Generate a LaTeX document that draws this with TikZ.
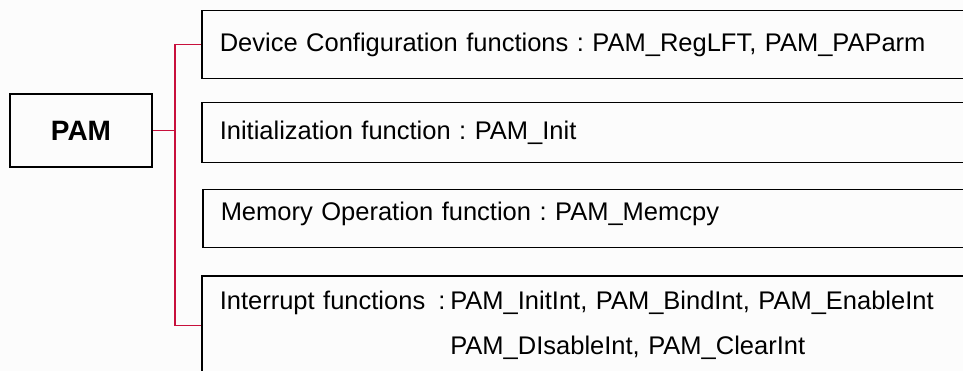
\documentclass[tikz,border=0pt]{standalone}
\usepackage{fontspec}
\setmainfont{Liberation Sans}
\usetikzlibrary{positioning}
\frenchspacing
\definecolor{paper}{HTML}{FCFCFC}
\definecolor{linkred}{HTML}{C8103C}
\tikzset{
  groupbox/.style={draw,line width=1.5pt,anchor=north west,minimum width=800pt,
    text width=764pt,inner xsep=18pt,align=left,
    font=\fontsize{25.5}{30}\selectfont},
  topbox/.style={draw,line width=1.5pt,minimum width=142pt,minimum height=73pt,
    font=\fontsize{28}{32}\selectfont\bfseries},
  link/.style={linkred,line width=1.4pt}
}
\begin{document}
\begin{tikzpicture}[x=1pt,y=-1pt]
  \useasboundingbox (0,0) rectangle (963,371);
  \fill[paper] (0,0) rectangle (963,371);
  \clip (0,0) rectangle (963,371);
  \node[topbox] (pam) at (81,130.5) {PAM};
  \node[groupbox,minimum height=68pt] (dev) at (201,10)
    {Device Configuration functions : PAM\_RegLFT, PAM\_PAParm};
  \node[groupbox,minimum height=60pt] (init) at (201,102)
    {Initialization function : PAM\_Init};
  \node[groupbox,minimum height=58pt,text height=18.5pt,text depth=15pt] (mem) at (202,189)
    {Memory Operation function : PAM\_Memcpy};
  \node[groupbox,minimum height=100pt] (intr) at (201,275)
    {\begin{tabular}{@{}l@{}l@{}}
      Interrupt functions\hspace{13pt}: & \hspace{5pt}PAM\_InitInt, PAM\_BindInt, PAM\_EnableInt\\[15pt]
      & \hspace{5pt}PAM\_DIsableInt, PAM\_ClearInt
    \end{tabular}};
  % red tree lines
  \coordinate (jn) at (175,130.5);
  \draw[link] (pam.east) -- (jn);
  \draw[link] (dev.west) -| (jn) |- (intr.west);
\end{tikzpicture}
\end{document}
